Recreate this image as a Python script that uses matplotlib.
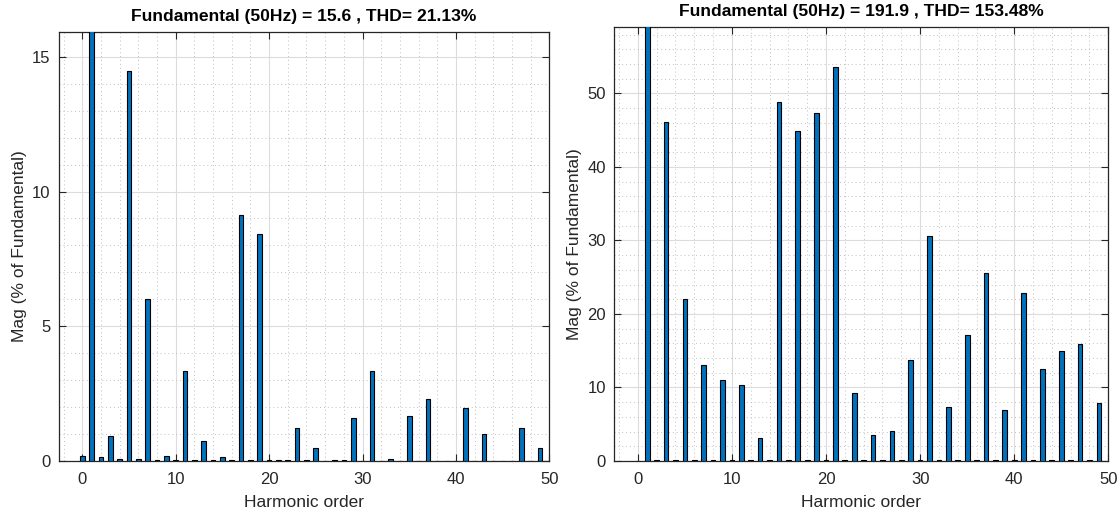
import matplotlib.pyplot as plt
from matplotlib.ticker import MultipleLocator

plt.rcParams['font.family'] = ['Liberation Sans', 'DejaVu Sans']

harmonics = list(range(50))

# % of fundamental (order 1 is the fundamental = 100%)
mag_left = [0.19, 100, 0.14, 0.93, 0.08, 14.47, 0.08, 6.02, 0.03, 0.19,
            0.02, 3.35, 0.02, 0.75, 0.03, 0.13, 0.02, 9.13, 0.05, 8.41,
            0.02, 0.05, 0.03, 1.21, 0.03, 0.48, 0.0, 0.03, 0.02, 1.61,
            0.01, 3.35, 0.01, 0.07, 0.0, 1.66, 0.0, 2.31, 0.01, 0.01,
            0.0, 1.97, 0.01, 0.99, 0.01, 0.01, 0.0, 1.21, 0.01, 0.49]

mag_right = [0.05, 100, 0.1, 46.1, 0.1, 22.05, 0.1, 13.1, 0.1, 11.05,
             0.1, 10.4, 0.1, 3.08, 0.1, 48.87, 0.15, 44.84, 0.15, 47.3,
             0.2, 53.6, 0.2, 9.26, 0.15, 3.49, 0.15, 4.03, 0.1, 13.68,
             0.1, 30.57, 0.1, 7.34, 0.1, 17.16, 0.1, 25.63, 0.1, 6.97,
             0.2, 22.83, 0.15, 12.46, 0.2, 14.99, 0.2, 15.94, 0.15, 7.88]

titles = ["Fundamental (50Hz) = 15.6 , THD= 21.13%",
          "Fundamental (50Hz) = 191.9 , THD= 153.48%"]

fig = plt.figure(figsize=(11.2, 5.15), dpi=100)
ax1 = fig.add_axes([59 / 1120, 54 / 515, 490.3 / 1120, 429.3 / 515])
ax2 = fig.add_axes([614.3 / 1120, 54 / 515, 494 / 1120, 433.7 / 515])

panels = [
    (ax1, mag_left, titles[0], 15.93, 5, 1),
    (ax2, mag_right, titles[1], 59.0, 10, 2),
]

for ax, mag, title, ytop, ymajor, yminor in panels:
    ax.bar(harmonics, mag, width=0.5, color='#0072BD', edgecolor='black',
           linewidth=0.8, zorder=3)
    ax.set_xlim(-2.5, 50)
    ax.set_ylim(0, ytop)
    ax.xaxis.set_major_locator(MultipleLocator(10))
    ax.xaxis.set_minor_locator(MultipleLocator(2))
    ax.yaxis.set_major_locator(MultipleLocator(ymajor))
    ax.yaxis.set_minor_locator(MultipleLocator(yminor))
    ax.grid(which='major', color='#dcdcdc', linewidth=0.8, zorder=0)
    ax.grid(which='minor', color='#c0c0c0', linestyle=(0, (1, 3)),
            linewidth=0.7, zorder=0)
    ax.tick_params(which='major', direction='in', top=True, right=True,
                   length=5, width=0.8, colors='#262626', labelsize=12)
    ax.tick_params(axis='x', which='major', pad=8)
    ax.tick_params(axis='y', which='major', pad=6)
    ax.tick_params(which='minor', length=0)
    for s in ax.spines.values():
        s.set_color('#262626')
        s.set_linewidth(0.9)
    ax.set_title(title, fontsize=12.6, fontweight='bold', pad=8)
    ax.set_xlabel("Harmonic order", fontsize=12.5, color='#262626',
                  labelpad=6)
    ax.set_ylabel("Mag (% of Fundamental)", fontsize=12.5, color='#262626')

plt.savefig("out.png", dpi=100)
